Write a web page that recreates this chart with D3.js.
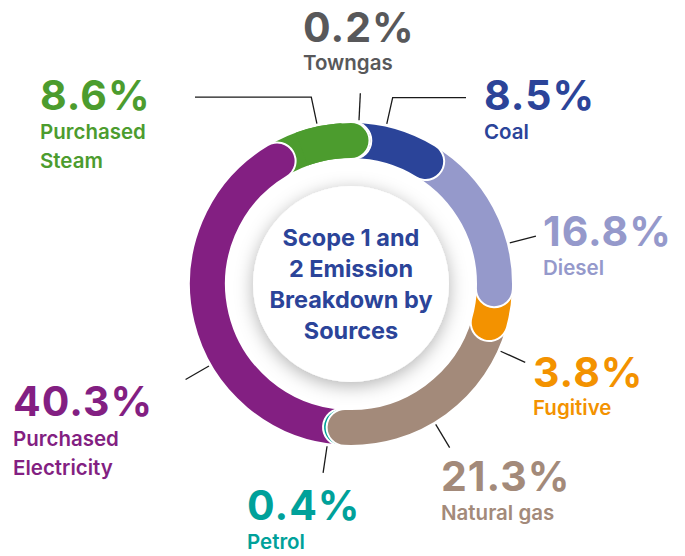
<!DOCTYPE html>
<html>
<head>
<meta charset="utf-8">
<script src="https://cdn.jsdelivr.net/npm/d3@7"></script>
<style>
  html, body { margin: 0; padding: 0; background: #ffffff; }
  svg { display: block; }
</style>
</head>
<body>
<script>
// Emission sources, clockwise from 12 o'clock
const sources = ["Towngas", "Coal", "Diesel", "Fugitive", "Natural gas", "Petrol", "Purchased Electricity", "Purchased Steam"];
const shares = [0.2, 8.5, 16.8, 3.8, 21.3, 0.4, 40.3, 8.6];
const shareLabels = ["0.2%", "8.5%", "16.8%", "3.8%", "21.3%", "0.4%", "40.3%", "8.6%"];
const nameLines = [["Towngas"], ["Coal"], ["Diesel"], ["Fugitive"], ["Natural gas"], ["Petrol"], ["Purchased", "Electricity"], ["Purchased", "Steam"]];
const colors = ["#58585a", "#2b4499", "#9599cb", "#f39200", "#a38a7a", "#00a19a", "#831f82", "#4c9c2e"];
const titleLines = ["Scope 1 and", "2 Emission", "Breakdown by", "Sources"];

// Label layout (left edge / baseline of the percentage line, gap to the name lines)
const labelPos = [
  { x: 303, y: 42, gap: 28 }, { x: 484, y: 110, gap: 29 }, { x: 543, y: 246, gap: 29 }, { x: 533, y: 387, gap: 28 },
  { x: 441, y: 491, gap: 29 }, { x: 247, y: 520, gap: 29 }, { x: 13, y: 416, gap: 30 }, { x: 40, y: 110, gap: 29 }
];
// Leader ticks: angle in degrees (clockwise from top), optional horizontal tail end x
const leaderAngle = [2.8, 12.6, 75.5, 114.2, 148.9, 188.4, 240, 348];
const leaderTail = [null, 466, null, null, null, null, null, 195];

const W = 685, H = 556;
const cx = 351, cy = 284;
const rOut = 161, rIn = 126;
const rMid = (rOut + rIn) / 2, band = rOut - rIn;
const outline = 2;

const svg = d3.select("body").append("svg")
  .attr("width", W).attr("height", H)
  .attr("viewBox", `0 0 ${W} ${H}`);

const defs = svg.append("defs");
const shadow = defs.append("filter").attr("id", "centerShadow")
  .attr("x", "-40%").attr("y", "-40%").attr("width", "180%").attr("height", "180%");
shadow.append("feDropShadow")
  .attr("dx", 0).attr("dy", 4).attr("stdDeviation", 9)
  .attr("flood-color", "#000").attr("flood-opacity", 0.3);

const pie = d3.pie().sort(null).value(d => d).startAngle(0).endAngle(2 * Math.PI);
const slices = pie(shares);

// centre-line arc of a slice, drawn with a thick round-capped stroke
function bandPath(d) {
  const p = d3.path();
  p.arc(0, 0, rMid, d.startAngle - Math.PI / 2, d.endAngle - Math.PI / 2);
  return p.toString();
}

const g = svg.append("g").attr("transform", `translate(${cx},${cy})`);

// centre disc with soft shadow
g.append("circle").attr("r", 98).attr("fill", "#ffffff").attr("filter", "url(#centerShadow)");

function drawOutline(sel, d) {
  sel.append("path").attr("d", bandPath(d))
    .attr("fill", "none").attr("stroke", "#ffffff")
    .attr("stroke-width", band + 2 * outline).attr("stroke-linecap", "round");
}
function drawFill(sel, d, i) {
  sel.append("path").attr("d", bandPath(d))
    .attr("fill", "none").attr("stroke", colors[i])
    .attr("stroke-width", band).attr("stroke-linecap", "round");
}

// each slice's end cap sits on top of the following slice
const ring = g.append("g");
for (let i = slices.length - 1; i >= 0; i--) {
  const s = ring.append("g").attr("class", "slice");
  drawOutline(s, slices[i]);
  drawFill(s, slices[i], i);
}

// the last slice's end cap also wraps over the first slice
const last = slices.length - 1;
const endA = slices[last].endAngle;
const wedge = (a0, a1) => d3.arc().innerRadius(0).outerRadius(rOut + 10).startAngle(a0).endAngle(a1)();
defs.append("clipPath").attr("id", "wrapOutline").append("path").attr("d", wedge(endA - 0.05, endA + 0.35));
defs.append("clipPath").attr("id", "wrapFill").append("path").attr("d", wedge(endA - 0.35, endA + 0.35));
drawOutline(g.append("g").attr("clip-path", "url(#wrapOutline)"), slices[last]);
drawFill(g.append("g").attr("clip-path", "url(#wrapFill)"), slices[last], last);

// leader ticks
const r0 = 164, r1 = 191;
leaderAngle.forEach((deg, i) => {
  const a = deg * Math.PI / 180;
  const x0 = cx + r0 * Math.sin(a), y0 = cy - r0 * Math.cos(a);
  const x1 = cx + r1 * Math.sin(a), y1 = cy - r1 * Math.cos(a);
  const pts = [[x0, y0], [x1, y1]];
  if (leaderTail[i] !== null) pts.push([leaderTail[i], y1]);
  svg.append("path").attr("d", d3.line()(pts))
    .attr("fill", "none").attr("stroke", "#1a1a1a").attr("stroke-width", 1.3);
});

// labels
const font = "Inter, 'DejaVu Sans', sans-serif";
sources.forEach((s, i) => {
  const t = svg.append("g").attr("class", "label");
  t.append("text").attr("x", labelPos[i].x).attr("y", labelPos[i].y)
    .attr("fill", colors[i]).attr("font-family", font)
    .attr("font-weight", 700).attr("font-size", 41).attr("letter-spacing", 1)
    .text(shareLabels[i]);
  nameLines[i].forEach((ln, k) => {
    t.append("text").attr("x", labelPos[i].x).attr("y", labelPos[i].y + labelPos[i].gap + k * 29)
      .attr("fill", colors[i]).attr("font-family", font)
      .attr("font-weight", 600).attr("font-size", 20.5)
      .text(ln);
  });
});

// centre title
const title = svg.append("text").attr("text-anchor", "middle")
  .attr("fill", "#2b4499").attr("font-family", font)
  .attr("font-weight", 700).attr("font-size", 23.5);
titleLines.forEach((ln, k) => {
  title.append("tspan").attr("x", cx).attr("y", 246 + k * 31).text(ln);
});
</script>
</body>
</html>
